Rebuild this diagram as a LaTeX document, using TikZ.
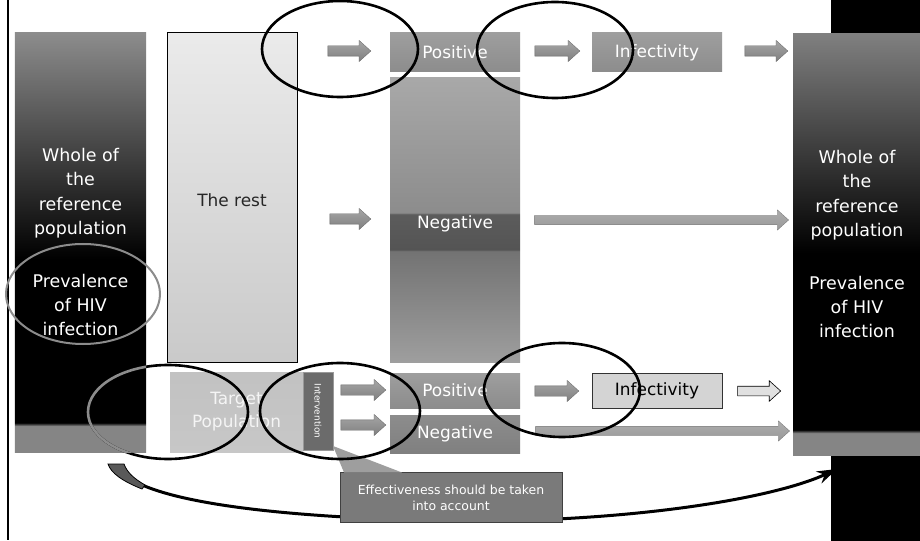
\documentclass[tikz,border=0pt]{standalone}
\usepackage{fontspec}
\setmainfont{DejaVu Sans}
\usetikzlibrary{shapes.arrows,shapes.geometric,arrows.meta,calc}
\definecolor{lboxtop}{gray}{0.55}
\definecolor{lboxband}{gray}{0.52}
\definecolor{rboxtop}{gray}{0.50}
\definecolor{nega}{gray}{0.62}
\definecolor{negb}{gray}{0.45}
\definecolor{negc}{gray}{0.33}
\definecolor{negd}{gray}{0.36}
\definecolor{nege}{gray}{0.55}
\definecolor{negf}{gray}{0.66}
\pgfdeclareverticalshading{leftshade}{100bp}{color(0bp)=(lboxband); color(28.1bp)=(lboxband); color(28.5bp)=(black); color(48bp)=(black); color(75bp)=(lboxtop); color(100bp)=(lboxtop)}
\pgfdeclareverticalshading{rightshade}{100bp}{color(0bp)=(lboxband); color(27.6bp)=(lboxband); color(28bp)=(black); color(49bp)=(black); color(75bp)=(rboxtop); color(100bp)=(rboxtop)}
\pgfdeclareverticalshading{negshade}{100bp}{color(0bp)=(nega); color(25bp)=(nega); color(44.5bp)=(negb); color(44.8bp)=(negc); color(51bp)=(negd); color(51.3bp)=(nege); color(75bp)=(negf); color(100bp)=(negf)}
\tikzset{
  pane/.style={inner sep=0pt, outer sep=0pt},
  bigtxt/.style={text=white, font=\fontsize{17.5}{24.5}\selectfont, align=center},
  lbl/.style={text=white, font=\fontsize{17}{20}\selectfont},
  darkbar/.style={pane, minimum width=130bp, top color=black!38, middle color=black!76, bottom color=black!45},
  arrowbase/.style={single arrow, inner xsep=0pt, inner ysep=5bp, outer sep=0pt, minimum width=21bp,
     single arrow head extend=5.5bp, single arrow tip angle=84},
  barrow/.style={arrowbase, top color=black!35, middle color=black!82, bottom color=black!50,
     draw=black!60, line width=0.3bp},
  longarrow/.style={arrowbase, inner ysep=4.5bp, minimum width=20bp, top color=black!32, middle color=black!60, bottom color=black!40,
     draw=black!55, line width=0.3bp},
  hollowarrow/.style={arrowbase, inner ysep=4.5bp, minimum width=20bp, fill=black!12, draw=black, line width=0.6bp},
  ring/.style={ellipse, draw=black, line width=2.6bp, inner sep=0pt},
}
\begin{document}
\begin{tikzpicture}[x=1bp,y=-1bp]
\useasboundingbox (0,0) rectangle (920,541);
\fill[white] (0,0) rectangle (920,541);
% frame line and black strip
\coordinate (ft) at (8,0);
\coordinate (fb) at (8,540);
\draw[line width=2bp] (ft) -- (fb);
\fill[black] (831,0) rectangle (920,541);
% left and right population boxes
\node[pane, shade, shading=leftshade, minimum width=131bp, minimum height=419bp] (L) at (80.5,242.5) {};
\node[pane, shade, shading=rightshade, minimum width=127bp, minimum height=421bp] (R) at (856.5,244.5) {};
\node[bigtxt] (Lt1) at (80.5,193) {Whole of\\the\\reference\\population};
\node[bigtxt] (Lt2) at (80.5,305) {Prevalence\\of HIV\\infection};
\node[bigtxt] (Rt1) at (857,195) {Whole of\\the\\reference\\population};
\node[bigtxt] (Rt2) at (857,307) {Prevalence\\of HIV\\infection};
% the rest
\node[pane, draw=black, line width=0.8bp, minimum width=130bp, minimum height=330bp,
      top color=black!8, middle color=black!30, bottom color=black!21] (rest) at (232,197.5) {};
\node[font=\fontsize{17}{20}\selectfont, text=black!85] at (232,200) {The rest};
% target population
\node[pane, minimum width=133bp, minimum height=80bp, top color=black!24, middle color=black!32, bottom color=black!22,
      text=black!4, font=\fontsize{17}{23}\selectfont, align=center] (target) at (236.5,412) {Target\\Population};
% intervention
\node[pane, rotate=-90, minimum width=78bp, minimum height=30bp, fill=black!58, draw=black!40, line width=0.8bp,
      text=white, font=\fontsize{9}{10}\selectfont] (interv) at (318,411) {Intervention};
% positive / negative / infectivity
\node[darkbar, minimum height=39bp, lbl] (p1) at (455,52.5) {Positive};
\node[darkbar, minimum height=39bp, lbl] (i1) at (657,52.5) {Infectivity};
\node[pane, shade, shading=negshade, minimum width=130bp, minimum height=284bp] (n1) at (455,220) {};
\node[lbl] at (455,224) {Negative};
\node[darkbar, minimum height=35bp, lbl] (p2) at (455,390.5) {Positive};
\node[darkbar, minimum height=38bp, lbl, top color=black!45, middle color=black!68, bottom color=black!50] (n2) at (455,434) {Negative};
\node[pane, minimum width=130bp, minimum height=35bp, fill=black!17, draw=black!80, line width=0.7bp,
      font=\fontsize{17}{20}\selectfont, text=black] (i2) at (657,390.5) {Infectivity};
% arrows
\node[barrow, minimum height=43bp] (a1) at (346.5,51) {};
\node[barrow, minimum height=45bp] (a2) at (554.5,51) {};
\node[barrow, minimum height=43bp] (a3) at (763.5,51) {};
\node[barrow, minimum height=41bp] (a4) at (347.5,219) {};
\node[longarrow, minimum height=254bp] (a5) at (659,220) {};
\node[barrow, minimum height=45bp] (a6) at (360.5,390) {};
\node[barrow, minimum height=45bp] (a7) at (360.5,425) {};
\node[barrow, minimum height=44bp] (a8) at (554,391) {};
\node[hollowarrow, minimum height=43bp] (a9) at (756.5,391) {};
\node[longarrow, minimum height=254bp] (a10) at (660,431) {};
% curved arrow from left to right population
\coordinate (cs) at (116,466);
\coordinate (ce) at (837,469);
\draw[line width=3bp, -{Stealth[length=20bp,width=13bp]}] (cs) .. controls (140,505) and (300,518) .. (450,521) .. controls (620,523) and (770,500) .. (ce);
\filldraw[fill=black!65, draw=black, line width=0.8bp] (108,464) -- (124,464) .. controls (127,472) and (133,478) .. (145,485) -- (142,489) .. controls (122,481) and (111,473) .. cycle;
% callout
\node[pane, minimum width=222bp, minimum height=50bp, fill=black!52, draw=black!75, line width=0.8bp,
      text=white, font=\fontsize{12.5}{16}\selectfont, align=center] (call) at (451,497.5) {Effectiveness should be taken\\into account};
\coordinate (tip) at ($(interv.east)+(15,-4)$);
\fill[black!38] ($(call.north west)+(4,0)$) -- (tip) -- ($(call.north west)+(62,0)$) -- cycle;
% hand-drawn rings
\node[ring, minimum width=156bp, minimum height=96bp] (e1) at (340,49) {};
\node[ring, minimum width=156bp, minimum height=96bp] (e2) at (555,50) {};
\node[ring, draw=black!45, line width=2bp, minimum width=154bp, minimum height=100bp] (e3) at (83,294) {};
\node[ring, minimum width=160bp, minimum height=94bp] (e4) at (168,412) {};
\begin{scope}
\clip (L.north west) rectangle (L.south east);
\node[ring, draw=black!45, minimum width=160bp, minimum height=94bp] at (168,412) {};
\end{scope}
\node[ring, minimum width=160bp, minimum height=96bp] (e5) at (340,411) {};
\node[ring, minimum width=156bp, minimum height=94bp] (e6) at (562,390) {};
\end{tikzpicture}
\end{document}
